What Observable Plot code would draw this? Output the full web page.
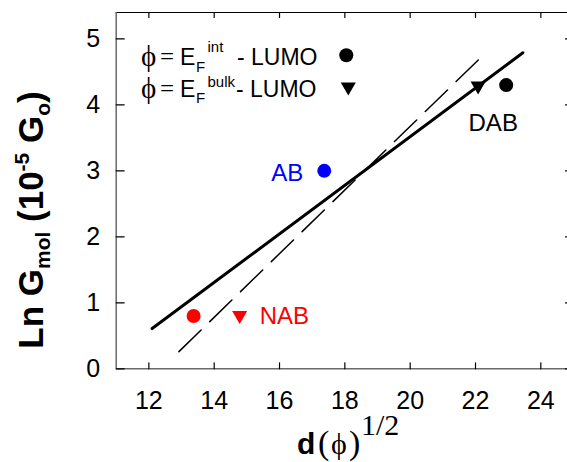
<!DOCTYPE html>
<html>
<head>
<meta charset="utf-8">
<script src="https://cdn.jsdelivr.net/npm/d3@7"></script>
<script src="https://cdn.jsdelivr.net/npm/@observablehq/plot@0.6"></script>
<style>
  html, body { margin: 0; padding: 0; background: white; overflow: hidden; }
  #chart svg { display: block; }
</style>
</head>
<body>
<div id="chart"></div>
<script>
// Molecular conductance (ln G) against d·√φ for NAB, AB and DAB junctions
const xTicks = [12, 14, 16, 18, 20, 22, 24];
const yTicks = [0, 1, 2, 3, 4, 5];

// φ = E_F(int) − LUMO : filled circles
const intMolecules = ["NAB", "AB", "DAB"];
const intX = [13.37, 17.37, 22.94];
const intY = [0.80, 3.00, 4.30];

// φ = E_F(bulk) − LUMO : down-pointing triangles
const bulkMolecules = ["NAB", "DAB"];
const bulkX = [14.78, 22.08];
const bulkY = [0.81, 4.29];

// straight-line fits, given by their two end points
const fitIntX = [12.10, 23.45];
const fitIntY = [0.61, 4.79];
const fitBulkX = [12.92, 22.29];
const fitBulkY = [0.26, 4.78];

const moleculeColor = {NAB: "#ff0000", AB: "#0000ff", DAB: "#000000"};

const intPoints = intMolecules.map((name, i) => ({name, x: intX[i], y: intY[i]}));
const bulkPoints = bulkMolecules.map((name, i) => ({name, x: bulkX[i], y: bulkY[i]}));
const fitInt = fitIntX.map((x, i) => ({x, y: fitIntY[i]}));
const fitBulk = fitBulkX.map((x, i) => ({x, y: fitBulkY[i]}));

const sans = "'Liberation Sans', Arial, Helvetica, sans-serif";
const serif = "'Liberation Serif', 'DejaVu Serif', 'Times New Roman', serif";

// a straight tick stroke, pointing along the vector's direction
const tickShape = {draw(context, l) { context.moveTo(0, 0); context.lineTo(0, -l); }};
const inwardTicks = (data, opts) => Plot.vector(data, {anchor: "start", shape: tickShape, stroke: "black", strokeWidth: 1.2, ...opts});

const chart = Plot.plot({
  width: 567,
  height: 462,
  marginLeft: 115.7,
  marginRight: 0,
  marginTop: 12,
  marginBottom: 93.7,
  x: {domain: [11, 25], range: [115.7, 573]},
  y: {domain: [0, 5.4]},
  color: {type: "identity"},
  style: {fontFamily: sans, fontSize: "25px", color: "black", background: "white", overflow: "hidden"},
  marks: [
    // frame: the top edge is crisp black, left and bottom edges softer
    Plot.ruleY([5.4], {stroke: "black", strokeWidth: 1}),
    Plot.ruleX([25], {stroke: "black", strokeWidth: 1}),
    Plot.ruleX([11], {stroke: "#6a6a6a", strokeWidth: 1.5}),
    Plot.ruleY([0], {stroke: "#6a6a6a", strokeWidth: 1.5}),

    // tick labels
    Plot.axisX({anchor: "bottom", ticks: xTicks, tickSize: 0, tickPadding: 22, tickFormat: d3.format("d"), label: null, fontSize: 25}),
    Plot.axisY({anchor: "left", ticks: yTicks, tickSize: 0, tickPadding: 16, tickFormat: d3.format("d"), label: null, fontSize: 25}),

    // inward ticks on all four sides
    inwardTicks(xTicks, {x: d => d, y: 0, rotate: 0, length: 6}),
    inwardTicks(xTicks, {x: d => d, y: 5.4, rotate: 180, length: 5}),
    inwardTicks(yTicks, {x: 11, y: d => d, rotate: 90, length: 8}),
    inwardTicks(yTicks, {x: 25, y: d => d, rotate: 270, length: 8}),

    // fits
    Plot.line(fitBulk, {x: "x", y: "y", stroke: "black", strokeWidth: 1.5, strokeDasharray: "31,12"}),
    Plot.line(fitInt, {x: "x", y: "y", stroke: "black", strokeWidth: 3}),

    // measurements
    Plot.dot(intPoints, {x: "x", y: "y", r: 7, fill: d => moleculeColor[d.name]}),
    Plot.dot(bulkPoints, {x: "x", y: "y", symbol: "triangle", rotate: 180, r: 5.6, fill: d => moleculeColor[d.name]}),

    // molecule names beside their points
    Plot.text(bulkPoints.filter(d => d.name === "NAB"), {x: "x", y: "y", text: "name", fill: d => moleculeColor[d.name], textAnchor: "start", dx: 20, dy: 1, fontSize: 24}),
    Plot.text(intPoints.filter(d => d.name === "AB"), {x: "x", y: "y", text: "name", fill: d => moleculeColor[d.name], textAnchor: "end", dx: -21, dy: 2, fontSize: 24}),
    Plot.text(intPoints.filter(d => d.name === "DAB"), {x: "x", y: "y", text: "name", fill: d => moleculeColor[d.name], textAnchor: "middle", dx: -13, dy: 38, fontSize: 24})
  ]
});

document.getElementById("chart").append(chart);

// ---- legend, axis titles (rich text with sub/superscripts) ----
const svg = d3.select(chart);

function put(parent, x, y, str, {size = 23, family = sans, weight = "normal", anchor = "start"} = {}) {
  return parent.append("text")
    .attr("x", x).attr("y", y)
    .attr("font-family", family)
    .attr("font-size", size)
    .attr("font-weight", weight)
    .attr("text-anchor", anchor)
    .attr("fill", "black")
    .text(str);
}

const legend = svg.append("g").attr("class", "legend");
const rows = [
  {sup: "int", base: 65, supBase: 51.5, subBase: 71.7, dashX: 237},
  {sup: "bulk", base: 96.7, supBase: 87, subBase: 103.3, dashX: 236}
];
rows.forEach(r => {
  put(legend, 141, r.base + 1, "\u03D5", {size: 29, family: serif});
  put(legend, 160, r.base, "=", {size: 25, family: serif});
  put(legend, 180, r.base, "E", {size: 23});
  put(legend, 196, r.subBase, "F", {size: 15});
  put(legend, 207.5, r.supBase, r.sup, {size: 15});
  put(legend, r.dashX, r.base, "- LUMO", {size: 23});
});
legend.append("path")
  .attr("transform", "translate(346.3,55.3)")
  .attr("d", d3.symbol(d3.symbolCircle, Math.PI * 7 * 7)())
  .attr("fill", "black");
legend.append("path")
  .attr("transform", "translate(348.3,86.8) rotate(180)")
  .attr("d", d3.symbol(d3.symbolTriangle, Math.PI * 5.6 * 5.6)())
  .attr("fill", "black");

// x-axis title: d (φ)^1/2
const xt = svg.append("g").attr("class", "x-title");
put(xt, 297, 454, "d", {size: 30, weight: "bold"});
put(xt, 318, 454, "(", {size: 34, family: serif});
put(xt, 331, 454, "\u03D5", {size: 30, family: serif});
put(xt, 349, 454, ")", {size: 34, family: serif});
put(xt, 361, 435, "1/2", {size: 30, family: serif});

// y-axis title: Ln G_mol (10^-5 G_o)
const yt = svg.append("text")
  .attr("transform", "translate(43,220) rotate(-90)")
  .attr("text-anchor", "middle")
  .attr("font-family", sans)
  .attr("font-weight", "bold")
  .attr("font-size", 35)
  .attr("fill", "black");
yt.append("tspan").text("Ln G");
yt.append("tspan").attr("font-size", 21).attr("dy", 7).text("mol");
yt.append("tspan").attr("dy", -7).text(" (10");
yt.append("tspan").attr("font-size", 21).attr("dy", -14).text("-5");
yt.append("tspan").attr("dy", 14).text(" G");
yt.append("tspan").attr("font-size", 21).attr("dy", 7).text("o");
yt.append("tspan").attr("dy", -7).text(")");
</script>
</body>
</html>
